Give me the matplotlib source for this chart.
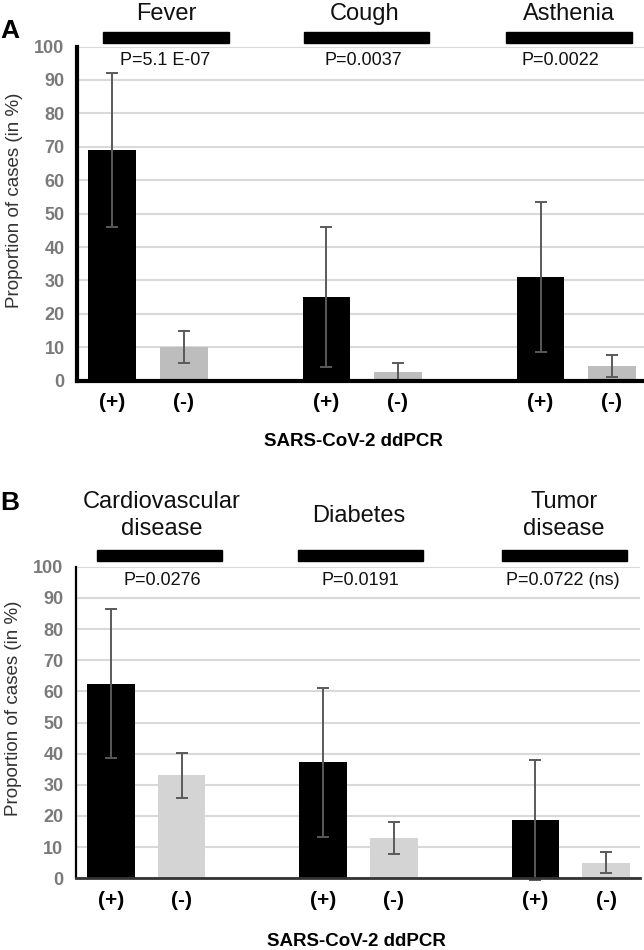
import matplotlib
matplotlib.use("Agg")
import matplotlib.pyplot as plt
from matplotlib.patches import Rectangle
import numpy as np

plt.rcParams['font.family'] = ['Liberation Sans', 'DejaVu Sans']

# ---------------- data ----------------
groups_A = ['Fever', 'Cough', 'Asthenia']
pvals_A = ['P=5.1 E-07', 'P=0.0037', 'P=0.0022']
pos_A = [69, 25, 31]          # SARS-CoV-2 ddPCR (+)
pos_err_A = [23, 21, 22.5]
neg_A = [10, 2.5, 4.3]        # SARS-CoV-2 ddPCR (-)
neg_err_A = [4.8, 2.8, 3.3]

groups_B = ['Cardiovascular\ndisease', 'Diabetes', 'Tumor\ndisease']
pvals_B = ['P=0.0276', 'P=0.0191', 'P=0.0722 (ns)']
pos_B = [62.5, 37.3, 18.6]
pos_err_B = [23.8, 23.9, 19.3]
neg_B = [33, 13, 5]
neg_err_B = [7.3, 5.2, 3.4]

tick_labels = ['(+)', '(-)']
yticks = list(range(0, 101, 10))
xlabel = 'SARS-CoV-2 ddPCR'
ylabel = 'Proportion of cases (in %)'

W, H = 644, 950
fig = plt.figure(figsize=(W / 100, H / 100), dpi=100)


def fx(px):
    return px / W


def fy(py):
    return 1 - py / H


def panel(rect, xlim, pos, pos_err, neg, neg_err, groups, pvals, neg_color,
          hdr_x, hdr_y, title_x, title_y, p_x, p_y, spine_lw, bottom_color,
          bottom_lw):
    ax = fig.add_axes(rect)
    n = len(groups)
    xp = np.arange(n) * 3
    xn = xp + 1
    bw = 0.67
    ax.bar(xp, pos, width=bw, color='black', zorder=3)
    ax.bar(xn, neg, width=bw, color=neg_color, zorder=3)
    ekw = dict(fmt='none', ecolor='#5a5a5a', elinewidth=1.4, capsize=4,
               capthick=1.4, zorder=4, clip_on=False)
    ax.errorbar(xp, pos, yerr=pos_err, **ekw)
    ax.errorbar(xn, neg, yerr=neg_err, **ekw)
    ax.set_xlim(*xlim)
    ax.set_ylim(0, 100)
    ax.set_yticks(yticks)
    ax.yaxis.grid(True, color='#d9d9d9', linewidth=1.5, zorder=0)
    ax.set_axisbelow(True)
    ax.tick_params(axis='y', length=0, pad=9, labelsize=13,
                   labelcolor='#7a7a7a')
    for t in ax.get_yticklabels():
        t.set_fontweight('bold')
    ticks = np.ravel(np.column_stack([xp, xn]))
    ax.set_xticks(ticks)
    ax.set_xticklabels(tick_labels * n, fontsize=15, fontweight='bold')
    ax.tick_params(axis='x', length=0, pad=9)
    for s in ['top', 'right']:
        ax.spines[s].set_visible(False)
    ax.spines['left'].set_linewidth(spine_lw)
    ax.spines['left'].set_color('black')
    ax.spines['bottom'].set_linewidth(bottom_lw)
    ax.spines['bottom'].set_color(bottom_color)
    ax.spines['bottom'].set_zorder(5)
    hw = 1.76
    for i in range(n):
        ax.add_patch(Rectangle((hdr_x[i] - hw / 2, hdr_y[0]), hw,
                               hdr_y[1] - hdr_y[0], color='black',
                               clip_on=False, transform=ax.transData))
        ax.text(title_x[i], title_y[i], groups[i], ha='center', va='center',
                fontsize=17, color='#111111', linespacing=1.3,
                clip_on=False)
        ax.text(p_x[i], p_y, pvals[i], ha='center', va='center',
                fontsize=13, color='#111111')
    return ax


# Panel A
panel([fx(77), fy(380.7), fx(644) - fx(77), fy(46.5) - fy(380.7)],
      (-0.495, 7.45), pos_A, pos_err_A, neg_A, neg_err_A, groups_A, pvals_A,
      '#bdbdbd',
      hdr_x=[0.75, 3.56, 6.40], hdr_y=(101.0, 104.3),
      title_x=[0.75, 3.53, 6.40], title_y=[109.8, 109.8, 109.8],
      p_x=[0.74, 3.51, 6.28], p_y=95.9,
      spine_lw=3.0, bottom_color='black', bottom_lw=3.0)

# Panel B
panel([fx(76), fy(878.3), fx(640) - fx(76), fy(566.7) - fy(878.3)],
      (-0.493, 7.478), pos_B, pos_err_B, neg_B, neg_err_B, groups_B, pvals_B,
      '#d4d4d4',
      hdr_x=[0.69, 3.53, 6.41], hdr_y=(101.9, 105.3),
      title_x=[0.72, 3.50, 6.40], title_y=[116.3, 116.3, 116.3],
      p_x=[0.73, 3.53, 6.39], p_y=95.7,
      spine_lw=1.6, bottom_color='#333333', bottom_lw=2.0)

# panel letters
fig.text(fx(10), fy(31), 'A', fontsize=19, fontweight='bold', ha='center',
         va='center')
fig.text(fx(10), fy(503), 'B', fontsize=19, fontweight='bold', ha='center',
         va='center')

# y labels
fig.text(fx(15), fy(200), ylabel, rotation=90, fontsize=13.5, ha='center',
         va='center', color='#333333')
fig.text(fx(14), fy(708), ylabel, rotation=90, fontsize=13.5, ha='center',
         va='center', color='#333333')

# x labels
fig.text(fx(353), fy(442), xlabel, fontsize=13.5, fontweight='bold',
         ha='center', va='center')
fig.text(fx(356), fy(941), xlabel, fontsize=13.5, fontweight='bold',
         ha='center', va='center')

fig.savefig('out.png', dpi=100, facecolor='white')
